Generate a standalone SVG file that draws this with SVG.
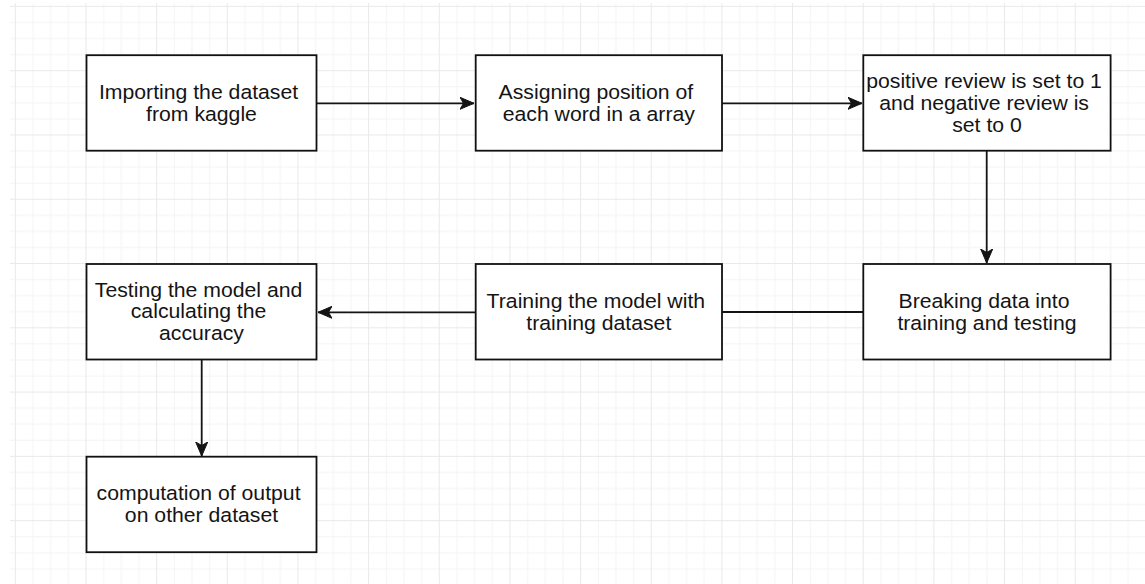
<svg xmlns="http://www.w3.org/2000/svg" width="1145" height="584" viewBox="0 0 1145 584">
  <style>
    .box { fill: #ffffff; stroke: #111111; stroke-width: 1.8; }
    .lbl { font-family: "Liberation Sans", Arial, Helvetica, sans-serif; font-size: 19.3px; fill: #141414; text-anchor: middle; }
    .edge { fill: none; stroke: #141414; stroke-width: 1.8; }
  </style>
  <defs>
    <!-- canvas grid: minor every 17.67 x 16.07, major every 4 cells -->
    <pattern id="grid" patternUnits="userSpaceOnUse" x="14.8" y="5.9" width="70.66" height="64.28">
      <rect x="17.67" y="0" width="1" height="64.28" fill="#f4f4f4"/>
      <rect x="35.33" y="0" width="1" height="64.28" fill="#f4f4f4"/>
      <rect x="53.0" y="0" width="1" height="64.28" fill="#f4f4f4"/>
      <rect x="0" y="16.07" width="70.66" height="1" fill="#f4f4f4"/>
      <rect x="0" y="32.14" width="70.66" height="1" fill="#f4f4f4"/>
      <rect x="0" y="48.21" width="70.66" height="1" fill="#f4f4f4"/>
      <rect x="0" y="0" width="1" height="64.28" fill="#e9e9e9"/>
      <rect x="0" y="0" width="70.66" height="1" fill="#e9e9e9"/>
    </pattern>
    <marker id="arrow" markerUnits="userSpaceOnUse" markerWidth="16" markerHeight="14" refX="14" refY="7" orient="auto">
      <path d="M0,1 L14,7 L0,13 L3.5,7 Z" fill="#141414" stroke="#141414" stroke-width="1"/>
    </marker>
  </defs>

  <rect x="0" y="0" width="1145" height="584" fill="#ffffff"/>
  <rect x="10" y="3" width="1135" height="581" fill="url(#grid)"/>

  <g id="connectors">
    <path class="edge" d="M317,103.3 H474" marker-end="url(#arrow)"/>
    <path class="edge" d="M722,103.3 H862" marker-end="url(#arrow)"/>
    <path class="edge" d="M986.7,151 V263" marker-end="url(#arrow)"/>
    <path class="edge" d="M863,312 H722"/>
    <path class="edge" d="M475,312.3 H318" marker-end="url(#arrow)"/>
    <path class="edge" d="M201.7,360 V456" marker-end="url(#arrow)"/>
  </g>

  <g id="import-dataset">
    <rect class="box" x="86.5" y="55.2" width="230" height="95.5"/>
    <text class="lbl" transform="translate(201.5 0) scale(1.1 1)">
      <tspan x="0" y="99.2">Importing the dataset</tspan>
      <tspan x="0" y="121.3">from kaggle</tspan>
    </text>
  </g>

  <g id="assign-positions">
    <rect class="box" x="475.7" y="55.2" width="246.3" height="95.5"/>
    <text class="lbl" transform="translate(598.8 0) scale(1.1 1)">
      <tspan x="0" y="99.2">Assigning position of</tspan>
      <tspan x="0" y="121.3">each word in a array</tspan>
    </text>
  </g>

  <g id="label-reviews">
    <rect class="box" x="863.3" y="55.2" width="247.3" height="95.5"/>
    <text class="lbl" transform="translate(987 0) scale(1.1 1)">
      <tspan x="0" y="88.3">positive review is set to 1</tspan>
      <tspan x="0" y="110">and negative review is</tspan>
      <tspan x="0" y="131.7">set to 0</tspan>
    </text>
  </g>

  <g id="split-data">
    <rect class="box" x="863.3" y="264" width="247.3" height="95.5"/>
    <text class="lbl" transform="translate(987 0) scale(1.1 1)">
      <tspan x="0" y="307.9">Breaking data into</tspan>
      <tspan x="0" y="330">training and testing</tspan>
    </text>
  </g>

  <g id="train-model">
    <rect class="box" x="475.7" y="264" width="246.3" height="95.5"/>
    <text class="lbl" transform="translate(598.8 0) scale(1.1 1)">
      <tspan x="0" y="307.9">Training the model with</tspan>
      <tspan x="0" y="330">training dataset</tspan>
    </text>
  </g>

  <g id="test-model">
    <rect class="box" x="86.5" y="264" width="230" height="95.5"/>
    <text class="lbl" transform="translate(201.5 0) scale(1.1 1)">
      <tspan x="0" y="296.7">Testing the model and</tspan>
      <tspan x="0" y="318.4">calculating the</tspan>
      <tspan x="0" y="340.5">accuracy</tspan>
    </text>
  </g>

  <g id="compute-output">
    <rect class="box" x="86.5" y="456.7" width="230" height="95.5"/>
    <text class="lbl" transform="translate(201.5 0) scale(1.1 1)">
      <tspan x="0" y="500.4">computation of output</tspan>
      <tspan x="0" y="522.5">on other dataset</tspan>
    </text>
  </g>
</svg>
